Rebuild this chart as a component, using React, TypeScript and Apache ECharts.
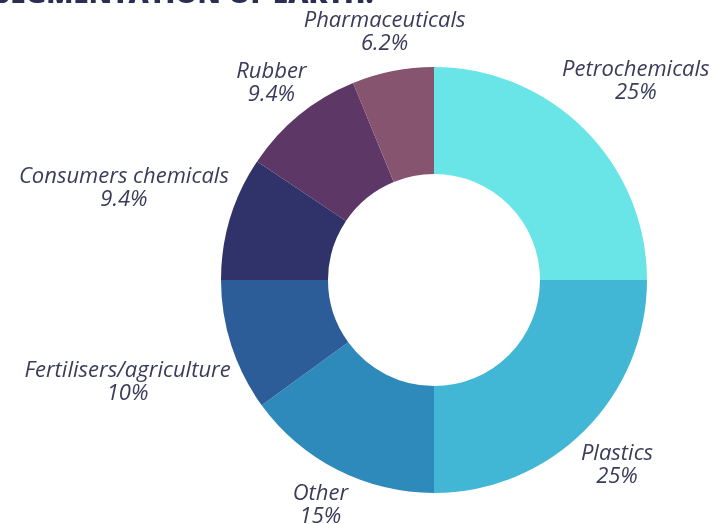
import React, { useEffect, useRef } from "react";
import * as echarts from "echarts";

const categories = [
  "Petrochemicals",
  "Plastics",
  "Other",
  "Fertilisers/agriculture",
  "Consumers chemicals",
  "Rubber",
  "Pharmaceuticals",
];
const values = [25, 25, 15, 10, 9.4, 9.4, 6.2];
const colors = ["#69e4e7", "#42b7d5", "#2d8aba", "#2d5d98", "#2f3369", "#5d3766", "#875470"];
const titleText = "SEGMENTATION OF EARTH:";

export default function App() {
  const ref = useRef<HTMLDivElement>(null);
  useEffect(() => {
    const chart = echarts.init(ref.current!, null, { renderer: "svg" });
    const cx = 434, cy = 280, r0 = 106, r1 = 213, gap = 4;
    const total = values.reduce((a, b) => a + b, 0);
    const mids: number[] = [];
    let acc = 0;
    values.forEach((v) => {
      mids.push(((acc + v / 2) / total) * Math.PI * 2);
      acc += v;
    });
    chart.setOption({
      animation: false,
      graphic: [
        {
          type: "text",
          left: -6,
          top: -22,
          style: {
            text: titleText,
            fontFamily: "Open Sans",
            fontWeight: 800,
            fontSize: 28,
            fill: "#2b2d52",
          },
        },
      ],
      series: [
        {
          type: "pie",
          center: [cx, cy],
          radius: [r0, r1],
          startAngle: 90,
          clockwise: true,
          silent: true,
          data: categories.map((n, i) => ({ name: n, value: values[i], itemStyle: { color: colors[i] } })),
          label: {
            show: true,
            position: "outside",
            formatter: (p: any) => `${p.name}\n${p.value}%`,
            fontFamily: "Open Sans",
            fontStyle: "italic",
            fontSize: 22,
            lineHeight: 23,
            color: "#3a3c5a",
            align: "center",
            overflow: "none",
          },
          labelLine: { show: false },
          labelLayout: (p: any) => {
            const a = mids[p.dataIndex];
            const ux = Math.sin(a), uy = -Math.cos(a);
            const w = p.labelRect.width / 2, h = p.labelRect.height / 2;
            const d = r1 + gap + w * Math.abs(ux) + h * Math.abs(uy);
            return { x: cx + d * ux, y: cy + d * uy, align: "center", verticalAlign: "middle" };
          },
          emphasis: { disabled: true },
        },
      ],
    });
    return () => chart.dispose();
  }, []);
  return <div ref={ref} style={{ position: "fixed", left: 0, top: 0, width: 715, height: 524 }} />;
}
